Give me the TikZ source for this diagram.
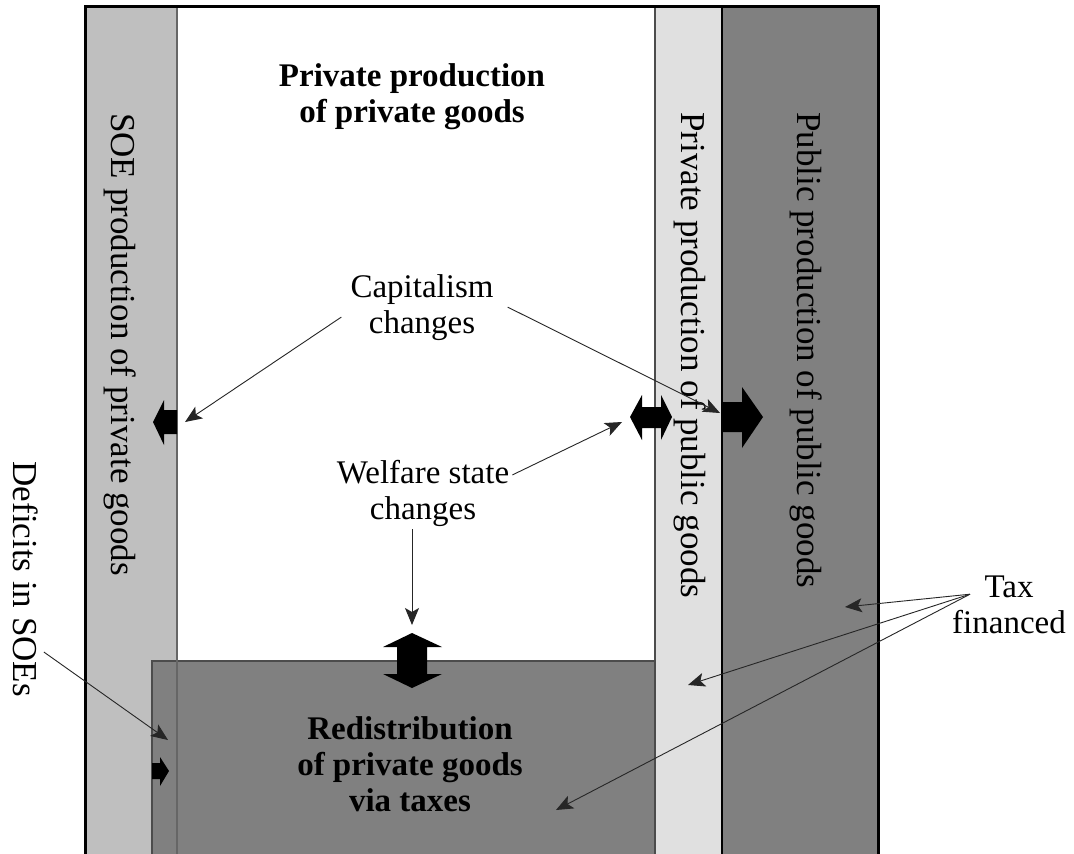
\documentclass[tikz,border=0pt]{standalone}
\usepackage{fontspec}
\setmainfont{Liberation Serif}
\usetikzlibrary{arrows.meta,calc}

\begin{document}
\begin{tikzpicture}[x=1pt,y=-1pt,>={Stealth[length=17pt,width=14pt,inset=4pt]},
    lbl/.style={font=\fontsize{33}{36}\selectfont,align=center,inner sep=3pt},
    boldlbl/.style={lbl,font=\fontsize{33}{36}\selectfont\bfseries},
    vlbl/.style={rotate=-90,font=\fontsize{35}{38}\selectfont,inner sep=0pt,anchor=base west},
    pointer/.style={->,line width=0.9pt,black!85},
    blockarrow/.style={fill=black}]
    \clip (0,0) rectangle (1074,854);
    \fill[white] (0,0) rectangle (1074,854);
    % Strips
    \fill[black!25] (87,8) rectangle (177,870);
    \fill[black!12] (655,8) rectangle (722,870);
    \fill[black!50] (722,8) rectangle (877,870);
    % Redistribution box
    \filldraw[fill=black!50,draw=black!70,line width=1.5pt] (152,661) rectangle (655,880);
    \draw[black!60,line width=1.5pt] (177,8) -- (177,870);
    \draw[black!70,line width=1.2pt] (655,8) -- (655,870);
    \draw[black,line width=1.2pt] (722,8) -- (722,870);
    % Frame
    \draw[line width=3.5pt] (85.5,870) -- (85.5,6.5) -- (878.5,6.5) -- (878.5,870);
    % Labels (base = last line)
    \node[boldlbl,anchor=base] (prv) at (412,122) {Private production\\of private goods};
    \node[vlbl] (soe) at (111,113) {SOE production of private goods};
    \node[vlbl] (ppub) at (681,112) {Private production of public goods};
    \node[vlbl] (pub) at (797,112) {Public production of public goods};
    \node[vlbl,anchor=base east] (def) at (13,697) {Deficits in SOEs};
    \node[lbl,anchor=base] (cap) at (422,333) {Capitalism\\changes};
    \node[lbl,anchor=base] (wel) at (423,519) {Welfare state\\changes};
    \node[lbl,anchor=base] (tax) at (1009,633) {Tax\\financed};
    \node[boldlbl,anchor=base] (red) at (410,811) {Redistribution\\of private goods\\via taxes};
    % Block arrows
    \fill[blockarrow] (153,422) -- (164,400) -- (164,410) -- (177,410) -- (177,434) -- (164,434) -- (164,445) -- cycle;
    \fill[blockarrow] (630,417) -- (642,395) -- (642,407) -- (661,407) -- (661,395) -- (672,417)
        -- (661,440) -- (661,428) -- (642,428) -- (642,440) -- cycle;
    \fill[blockarrow] (722,402) -- (742,402) -- (742,387) -- (763,417) -- (742,448) -- (742,432) -- (722,432) -- cycle;
    \fill[blockarrow] (412,633) -- (442,647) -- (427,647) -- (427,674) -- (442,674) -- (412,688)
        -- (383,674) -- (397,674) -- (397,647) -- (383,647) -- cycle;
    \fill[blockarrow] (152,763) -- (160,763) -- (160,757) -- (169,771) -- (160,786) -- (160,779) -- (152,779) -- cycle;
    % Pointers
    \coordinate (soeTip) at (185,422);
    \coordinate (pubTip) at (720,413);
    \coordinate (ppubTip) at (622,422);
    \coordinate (redTip) at (412,625);
    \coordinate (defTip) at (168,740);
    \coordinate (taxTipA) at (845,607);
    \coordinate (taxTipB) at (688,685);
    \coordinate (taxTipC) at (556,810);
    \draw[pointer] ([shift={(-6,10)}]cap.west) -- (soeTip);
    \draw[pointer] ([shift={(11,0)}]cap.east) -- (pubTip);
    \draw[pointer] ([shift={(0,-18)}]wel.east) -- (ppubTip);
    \draw[pointer] (wel.south -| redTip) -- (redTip);
    \draw[pointer] ([shift={(6,-45)}]def.north east) -- (defTip);
    \coordinate (taxSrc) at ($(tax.north)+(-39,22)$);
    \draw[pointer] (taxSrc) -- (taxTipA);
    \draw[pointer] (taxSrc) -- (taxTipB);
    \draw[pointer] (taxSrc) -- (taxTipC);
\end{tikzpicture}
\end{document}
